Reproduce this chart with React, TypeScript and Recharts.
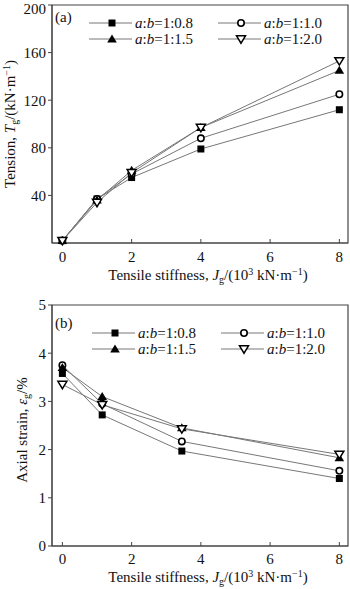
import { LineChart, Line, XAxis, YAxis, ReferenceArea } from "recharts";

const FONT = '"Liberation Serif", "Times New Roman", serif';
const LINE = "#777";
const AXIS = "#444";

// (a) tension vs tensile stiffness
const tensionX = [0, 1, 2, 4, 8];
const tension08 = [2, 37, 55, 79, 112];
const tension10 = [2, 37, 58, 88, 125];
const tension15 = [2, 36, 61, 97, 145];
const tension20 = [2, 34, 59, 97, 153];
const tensionTicksY = [40, 80, 120, 160, 200];

// (b) axial strain vs tensile stiffness
const strainX = [0, 1.15, 3.45, 8];
const strain08 = [3.58, 2.72, 1.97, 1.4];
const strain10 = [3.75, 2.95, 2.17, 1.56];
const strain15 = [3.7, 3.1, 2.45, 1.83];
const strain20 = [3.35, 2.93, 2.43, 1.9];
const strainTicksY = [0, 1, 2, 3, 4, 5];

const ticksX = [0, 2, 4, 6, 8];
const ratios = ["1:0.8", "1:1.0", "1:1.5", "1:2.0"];
const keys = ["s08", "s10", "s15", "s20"];
const markers = ["square", "circle", "triangle", "invTriangle"];

const tensionRows = tensionX.map((x, i) => ({
  x,
  s08: tension08[i],
  s10: tension10[i],
  s15: tension15[i],
  s20: tension20[i],
}));

const strainRows = strainX.map((x, i) => ({
  x,
  s08: strain08[i],
  s10: strain10[i],
  s15: strain15[i],
  s20: strain20[i],
}));

const Marker = ({ kind, cx, cy }: { kind: string; cx: number; cy: number }) => {
  if (cx == null || cy == null) return null;
  switch (kind) {
    case "square":
      return <rect x={cx - 3.5} y={cy - 3.5} width={7} height={7} fill="#000" />;
    case "circle":
      return <circle cx={cx} cy={cy} r={3.2} fill="#fff" stroke="#000" strokeWidth={1.6} />;
    case "triangle":
      return <path d={`M${cx},${cy - 4.6}L${cx + 4.8},${cy + 3.4}L${cx - 4.8},${cy + 3.4}Z`} fill="#000" />;
    default:
      return (
        <path
          d={`M${cx - 4.5},${cy - 3.2}L${cx + 4.5},${cy - 3.2}L${cx},${cy + 4.2}Z`}
          fill="#fff"
          stroke="#000"
          strokeWidth={1.5}
        />
      );
  }
};

const LegendBox = ({ top, left }: { top: number; left: number }) => (
  <svg width={270} height={36} style={{ position: "absolute", top, left, overflow: "visible" }}>
    {ratios.map((r, i) => {
      const col = i % 2;
      const row = Math.floor(i / 2);
      const x0 = 3 + col * 129;
      const y = 9 + row * 16;
      return (
        <g key={r}>
          <line x1={x0} x2={x0 + 43} y1={y} y2={y} stroke={LINE} strokeWidth={1} />
          <Marker kind={markers[i]} cx={x0 + 23} cy={y} />
          <text x={x0 + 46} y={y + 5} fontFamily={FONT} fontSize={15} fill="#111">
            <tspan fontStyle="italic">a</tspan>:<tspan fontStyle="italic">b</tspan>={r}
          </text>
        </g>
      );
    })}
  </svg>
);

// axis titles, drawn in an overlay svg over each panel
const Titles = ({ kind, xBase }: { kind: "a" | "b"; xBase: number }) => (
  <svg width={350} height={295} style={{ position: "absolute", left: 0, top: 0, overflow: "visible", pointerEvents: "none" }}>
    <text x={208} y={xBase} textAnchor="middle" fontFamily={FONT} fontSize={15} fill="#111">
      Tensile stiffness, <tspan fontStyle="italic">J</tspan>
      <tspan dy={3} fontSize={10}>g</tspan>
      <tspan dy={-3}>/(10</tspan>
      <tspan dy={-5} fontSize={10}>3</tspan>
      <tspan dy={5}> kN·m</tspan>
      <tspan dy={-5} fontSize={10}>−1</tspan>
      <tspan dy={5}>)</tspan>
    </text>
    {kind === "a" ? (
      <text transform="rotate(-90 15 124)" x={15} y={124} textAnchor="middle" fontFamily={FONT} fontSize={15} fill="#111">
        Tension, <tspan fontStyle="italic">T</tspan>
        <tspan dy={3} fontSize={10}>g</tspan>
        <tspan dy={-3}>/(kN·m</tspan>
        <tspan dy={-5} fontSize={10}>−1</tspan>
        <tspan dy={5}>)</tspan>
      </text>
    ) : (
      <text transform="rotate(-90 27 135)" x={27} y={135} textAnchor="middle" fontFamily={FONT} fontSize={15} fill="#111">
        Axial strain, <tspan fontStyle="italic">ε</tspan>
        <tspan dy={3} fontSize={10}>g</tspan>
        <tspan dy={-3}>/%</tspan>
      </text>
    )}
    <text x={55} y={kind === "a" ? 22 : 33} fontFamily={FONT} fontSize={15} fill="#111">
      ({kind})
    </text>
  </svg>
);

const tickStyle = { fontFamily: FONT, fontSize: 15, fill: "#111", stroke: "none" };

const series = (rows: any[]) =>
  keys.map((k, i) => (
    <Line
      key={k}
      dataKey={k}
      stroke={LINE}
      strokeWidth={1}
      isAnimationActive={false}
      dot={(p: any) => <Marker key={`${k}-${p.index}`} kind={markers[i]} cx={p.cx} cy={p.cy} />}
      activeDot={false}
    />
  ));

export default function App() {
  return (
    <div style={{ position: "absolute", left: 0, top: 0, width: 350, height: 589, background: "#fff" }}>
      <div style={{ position: "absolute", left: 0, top: 0, width: 350, height: 295 }}>
        <LineChart width={350} height={295} data={tensionRows} margin={{ top: 5, right: 2, left: 0, bottom: 0 }}>
          <ReferenceArea x1={-0.3} x2={8.25} y1={0} y2={200} fill="none" stroke={AXIS} strokeWidth={1.2} />
          <XAxis
            dataKey="x"
            type="number"
            domain={[-0.3, 8.25]}
            ticks={ticksX}
            allowDataOverflow
            height={52}
            tickSize={-4}
            tickMargin={12}
            tick={tickStyle}
            axisLine={{ stroke: AXIS }}
            tickLine={{ stroke: AXIS }}
          />
          <YAxis
            type="number"
            domain={[0, 200]}
            ticks={tensionTicksY}
            width={52}
            tickSize={4}
            tickMargin={2}
            tick={tickStyle}
            axisLine={{ stroke: AXIS }}
            tickLine={{ stroke: AXIS }}
          />
          {series(tensionRows)}
        </LineChart>
        <Titles kind="a" xBase={280} />
        <LegendBox top={14} left={86} />
      </div>

      <div style={{ position: "absolute", left: 0, top: 295, width: 350, height: 294 }}>
        <LineChart width={350} height={294} data={strainRows} margin={{ top: 10, right: 2, left: 0, bottom: 0 }}>
          <ReferenceArea x1={-0.3} x2={8.25} y1={0} y2={5} fill="none" stroke={AXIS} strokeWidth={1.2} />
          <XAxis
            dataKey="x"
            type="number"
            domain={[-0.3, 8.25]}
            ticks={ticksX}
            allowDataOverflow
            height={43}
            tickSize={-4}
            tickMargin={11}
            tick={tickStyle}
            axisLine={{ stroke: AXIS }}
            tickLine={{ stroke: AXIS }}
          />
          <YAxis
            type="number"
            domain={[0, 5]}
            ticks={strainTicksY}
            width={52}
            tickSize={4}
            tickMargin={2}
            tick={tickStyle}
            axisLine={{ stroke: AXIS }}
            tickLine={{ stroke: AXIS }}
          />
          {series(strainRows)}
        </LineChart>
        <Titles kind="b" xBase={287} />
        <LegendBox top={29} left={89} />
      </div>
    </div>
  );
}
